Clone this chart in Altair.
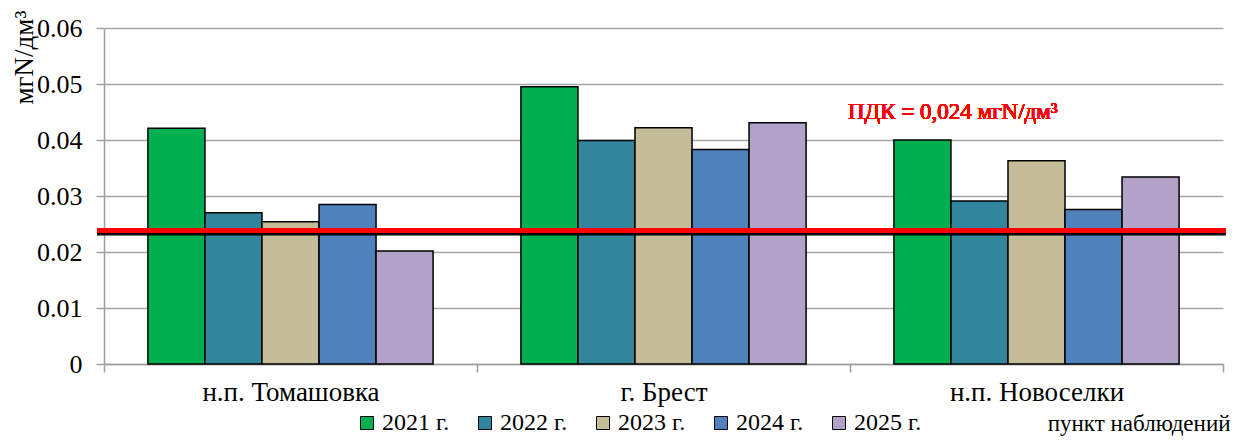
import altair as alt
import pandas as pd

sites = ["н.п. Томашовка", "г. Брест", "н.п. Новоселки"]
years = ["2021 г.", "2022 г.", "2023 г.", "2024 г.", "2025 г."]
v2021 = [0.0421, 0.0495, 0.0400]
v2022 = [0.0270, 0.0399, 0.0291]
v2023 = [0.0254, 0.0422, 0.0363]
v2024 = [0.0285, 0.0383, 0.0276]
v2025 = [0.0202, 0.0431, 0.0334]
colors = ["#00B050", "#31859C", "#C4BD97", "#4F81BD", "#B3A2C7"]
pdk_value = 0.0238
pdk_label = "ПДК = 0,024 мгN/дм³"
y_title = "мгN/дм³"
x_title = "пункт наблюдений"

series = [v2021, v2022, v2023, v2024, v2025]
rows = []
for yr, vals in zip(years, series):
    for s, v in zip(sites, vals):
        rows.append({"site": s, "year": yr, "value": v})
df = pd.DataFrame(rows)

FONT = "Liberation Serif"
W, H = 1119, 336

bars = alt.Chart(df).mark_bar(stroke="black", strokeWidth=1.5).encode(
    x=alt.X("site:N", sort=sites,
            scale=alt.Scale(paddingInner=0, paddingOuter=0),
            axis=alt.Axis(title=x_title, labelAngle=0, tickBand="extent",
                          labelFontSize=27, labelFont=FONT, labelColor="black",
                          labelPadding=7, tickSize=8, grid=False,
                          titleFont=FONT, titleFontSize=23, titleFontWeight="normal",
                          titleColor="black", titleX=1126, titleY=66,
                          titleAlign="right", titleAnchor="end",
                          titleBaseline="alphabetic")),
    xOffset=alt.XOffset("year:N", sort=years,
                        scale=alt.Scale(paddingInner=0, paddingOuter=0.77)),
    y=alt.Y("value:Q", scale=alt.Scale(domain=[0, 0.06], nice=False),
            axis=alt.Axis(title=y_title, values=[0, 0.01, 0.02, 0.03, 0.04, 0.05, 0.06],
                          format=".2~f", labelFontSize=26, labelFont=FONT,
                          labelColor="black", labelPadding=14, tickSize=8,
                          grid=True, gridColor="#A6A6A6", gridWidth=1.3,
                          titleFont=FONT, titleFontSize=27, titleFontWeight="normal",
                          titleColor="black", titleAngle=270, titleX=-80, titleY=-18,
                          titleAlign="right", titleBaseline="middle")),
    color=alt.Color("year:N", sort=years,
                    scale=alt.Scale(domain=years, range=colors),
                    legend=alt.Legend(title=None, orient="none", direction="horizontal",
                                      columns=5, legendX=251, legendY=383,
                                      symbolType="square", symbolSize=169,
                                      symbolStrokeColor="black", symbolStrokeWidth=1,
                                      labelFont=FONT, labelFontSize=24,
                                      labelColor="black", labelOffset=3,
                                      columnPadding=23, labelLimit=200)),
)

shadow = alt.Chart(df).mark_rule(color="#000000", opacity=0.18, strokeWidth=3, yOffset=3).encode(
    x=alt.value(-7), x2=alt.value(W + 3), y=alt.datum(pdk_value)
)
rule = alt.Chart(df).mark_rule(color="#FF0000", strokeWidth=4.5).encode(
    x=alt.value(-7), x2=alt.value(W + 3), y=alt.datum(pdk_value)
)
label = alt.Chart(df).mark_text(color="#FF0000", font=FONT, fontSize=23,
                                fontWeight="normal",
                                align="left", baseline="middle").encode(
    x=alt.value(744), y=alt.value(84), text=alt.value(pdk_label)
)

chart = alt.layer(bars, shadow, rule, label).properties(
    width=W, height=H,
    autosize=alt.AutoSizeParams(type="none"),
    padding={"left": 96, "top": 20, "right": 10, "bottom": 72},
).configure(font=FONT).configure_view(stroke=None).configure_axis(
    domainColor="#A0A0A0", domainWidth=1.5, tickColor="#A0A0A0", tickWidth=1.5
)

chart.save("out.html", embed_options={"renderer": "svg", "actions": False})
